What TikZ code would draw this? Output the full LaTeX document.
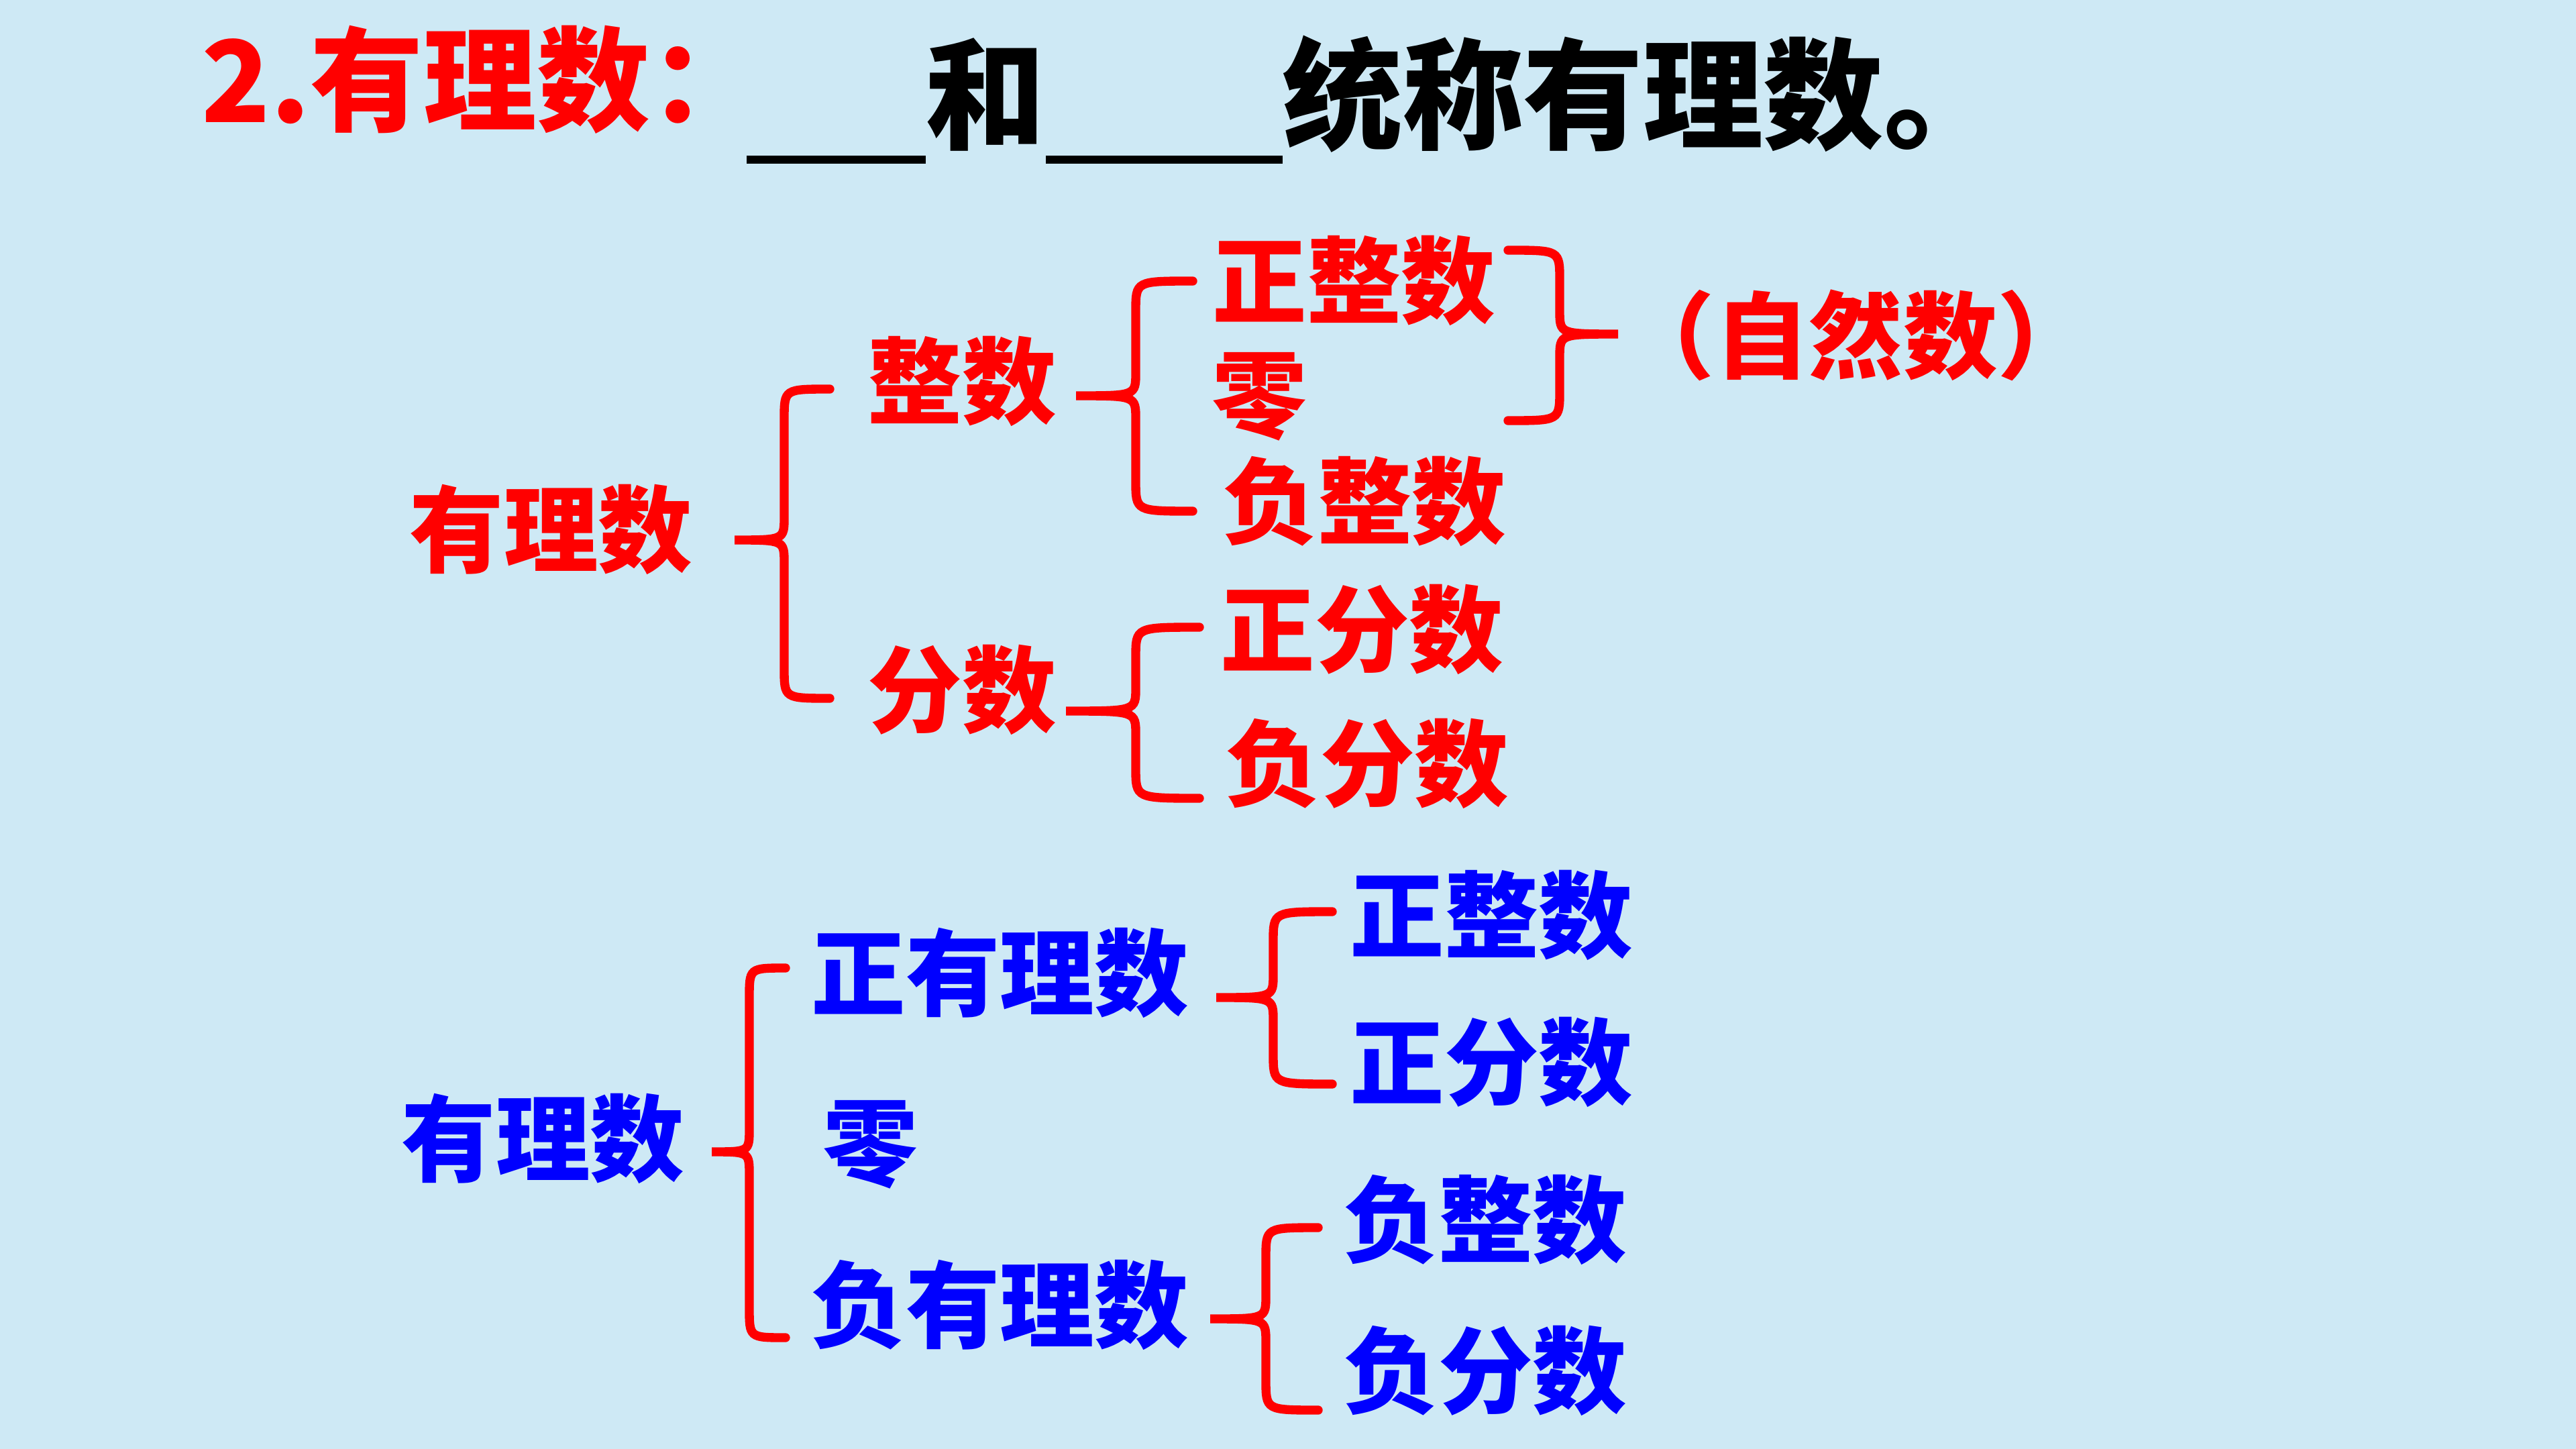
\documentclass[tikz,border=0pt]{standalone}
\usepackage{fontspec}
\newfontfamily\cjk{Noto Sans CJK SC}
\definecolor{bgblue}{RGB}{206,233,245}
\tikzset{
  rtxt/.style={text=red, anchor=west, inner sep=0pt, font=\cjk\bfseries\fontsize{40}{48}\selectfont},
  btxt/.style={rtxt, text=blue},
  curl/.style={red, line width=3.8pt, line cap=round}
}
% tip x, stem x, end x, top y, tip y, bottom y
\newcommand{\curly}[6]{%
  \draw[curl] (#3,#4) .. controls (#2,#4) .. (#2,{#4-0.45}) -- (#2,{#5+0.35})
    .. controls (#2,#5) .. (#1,#5) .. controls (#2,#5) .. (#2,{#5-0.35})
    -- (#2,{#6+0.45}) .. controls (#2,#6) .. (#3,#6);}
\begin{document}
\begin{tikzpicture}
    \fill[bgblue] (0,0) rectangle (38.4,-21.6);
    \node (title) [anchor=base west, inner sep=0pt, text=red, font=\cjk\bfseries\fontsize{48}{56}\selectfont] at (3.00,-1.83) {2.有理数：};
    \node (blank) [anchor=base west, inner sep=0pt, font=\cjk\bfseries\fontsize{51}{60}\selectfont] at (11.12,-2.09)
        {\rule[-0.35cm]{2.67cm}{0.12cm}和\rule[-0.35cm]{3.53cm}{0.12cm}统称有理数。};

    \node (q1) [rtxt] at (6.10,-7.89) {有理数};
    \node (zs) [rtxt] at (12.93,-5.68) {整数};
    \node (fs) [rtxt] at (12.93,-10.28) {分数};
    \node (zzs) [rtxt] at (18.07,-4.18) {正整数};
    \node (ling) [rtxt] at (18.07,-5.91) {零};
    \node (fzs) [rtxt] at (18.23,-7.47) {负整数};
    \node (zfs) [rtxt] at (18.19,-9.38) {正分数};
    \node (ffs) [rtxt] at (18.27,-11.38) {负分数};
    \node (zrs) [rtxt, anchor=center] at (27.67,-5.00) {（自然数）};
    \curly{10.95}{11.69}{12.37}{-5.80}{-8.05}{-10.41}
    \curly{16.04}{16.93}{17.78}{-4.19}{-5.90}{-7.62}
    \curly{24.12}{23.25}{22.48}{-3.73}{-4.98}{-6.27}
    \curly{15.89}{16.93}{17.88}{-9.35}{-10.60}{-11.90}

    \node (q2) [btxt] at (5.98,-16.97) {有理数};
    \node (zy) [btxt] at (12.09,-14.50) {正有理数};
    \node (ling2) [btxt] at (12.27,-17.06) {零};
    \node (fy) [btxt] at (12.09,-19.45) {负有理数};
    \node (zzs2) [btxt] at (20.12,-13.64) {正整数};
    \node (zfs2) [btxt] at (20.12,-15.83) {正分数};
    \node (fzs2) [btxt] at (20.03,-18.18) {负整数};
    \node (ffs2) [btxt] at (20.03,-20.43) {负分数};
    \curly{10.61}{11.17}{11.71}{-14.43}{-17.17}{-19.94}
    \curly{18.13}{18.98}{19.86}{-13.59}{-14.87}{-16.16}
    \curly{18.04}{18.87}{19.65}{-18.30}{-19.66}{-21.02}
\end{tikzpicture}
\end{document}
